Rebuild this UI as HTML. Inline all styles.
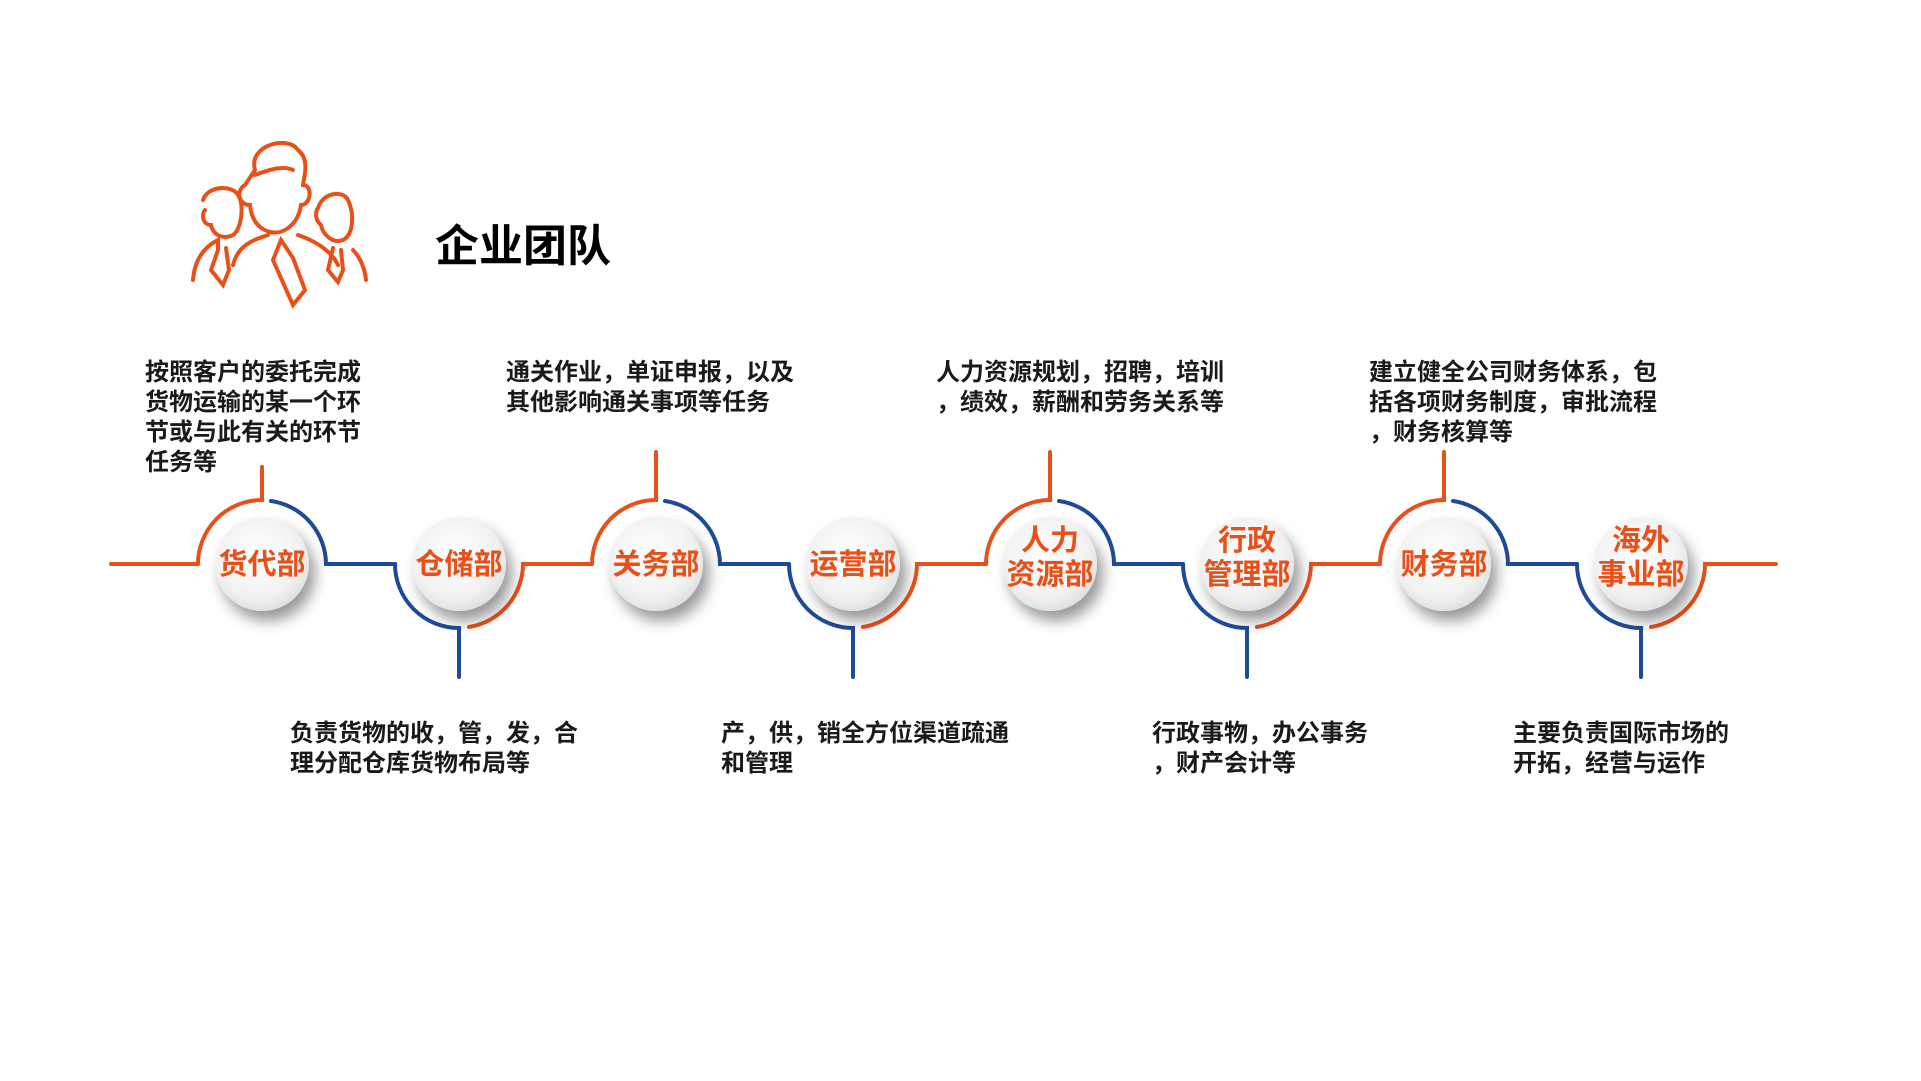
<!DOCTYPE html>
<html><head><meta charset="utf-8"><style>
html,body{margin:0;padding:0;background:#fff;}
body{width:1921px;height:1081px;position:relative;overflow:hidden;font-family:"Liberation Sans","Noto Sans CJK SC",sans-serif;}
.t{position:absolute;font-size:24px;line-height:30px;color:#1a1a1a;font-weight:bold;white-space:nowrap;}
.title{position:absolute;left:435px;top:210px;font-size:44px;font-weight:bold;color:#000;}
</style></head><body>
<svg width="1921" height="1081" style="position:absolute;left:0;top:0">
<defs>
<radialGradient id="g" cx="0.45" cy="0.4" r="0.65">
<stop offset="0" stop-color="#ffffff"/><stop offset="0.7" stop-color="#f1f1f1"/><stop offset="1" stop-color="#dcdcdc"/>
</radialGradient>
<filter id="sh" x="-50%" y="-50%" width="200%" height="200%"><feDropShadow dx="6" dy="10" stdDeviation="7" flood-color="#000" flood-opacity="0.4"/></filter>
</defs>
<g fill="none" stroke-width="4" stroke-linecap="round">
<g stroke="#e8501a" stroke-width="4" transform="translate(193,140)">
<path d="M62 30 C55 5 95 -5 105 10 C118 20 110 40 110 45 C120 45 118 65 108 65 C105 85 90 95 77 92 C62 88 58 75 57 65 C45 65 43 50 52 45 Z"/>
<path d="M62 35 C75 30 90 25 100 30"/>
<path d="M40 125 C45 105 60 100 75 95 M105 95 C120 100 138 110 145 125"/>
<path d="M88 100 L80 120 L100 165 L112 150 L100 118 Z"/>
<path d="M10 60 C15 45 40 45 45 55 C52 65 48 90 40 95 C30 100 20 95 18 85 C10 85 8 75 12 70"/>
<path d="M0 140 C2 115 15 105 25 100 L25 110 L18 130 L30 145 L36 130 L33 108"/>
<path d="M125 68 C130 52 150 50 155 60 C162 75 160 95 150 100 C140 104 130 95 128 85 C122 80 122 72 125 68"/>
<path d="M140 108 L135 130 L145 142 L150 130 L148 110 M160 110 C168 118 172 130 173 140"/>
</g>
<path d="M111 564 H198" stroke="#e8501a"/>
</g>
<g id="nodes" fill="none" stroke-width="4" stroke-linecap="round"></g>
</svg>
<div class="title">企业团队</div>
<div class="t" style="left:145px;top:358px">按照客户的委托完成<br>货物运输的某一个环<br>节或与此有关的环节<br>任务等</div>
<div class="t" style="left:506px;top:358px">通关作业，单证申报，以及<br>其他影响通关事项等任务</div>
<div class="t" style="left:936px;top:358px">人力资源规划，招聘，培训<br>，绩效，薪酬和劳务关系等</div>
<div class="t" style="left:1369px;top:358px">建立健全公司财务体系，包<br>括各项财务制度，审批流程<br>，财务核算等</div>
<div class="t" style="left:290px;top:719px">负责货物的收，管，发，合<br>理分配仓库货物布局等</div>
<div class="t" style="left:721px;top:719px">产，供，销全方位渠道疏通<br>和管理</div>
<div class="t" style="left:1152px;top:719px">行政事物，办公事务<br>，财产会计等</div>
<div class="t" style="left:1513px;top:719px">主要负责国际市场的<br>开拓，经营与运作</div>
<script>
var O="#e8501a",B="#1e4a9a",D=197;
var labels=[["货代部"],["仓储部"],["关务部"],["运营部"],["人力","资源部"],["行政","管理部"],["财务部"],["海外","事业部"]];
var g=document.getElementById("nodes"),s="";
var F=' font-size="29" font-weight="bold" fill="'+O+'" stroke="none" font-family="Liberation Sans,Noto Sans CJK SC,sans-serif" text-anchor="middle"';
for(var i=0;i<8;i++){
 var cx=262+D*i,cy=564,r=64;
 if(i%2==0){
  var st=(i==0)?467:452;
  s+='<path d="M'+(cx-r)+' '+cy+' A'+r+' '+r+' 0 0 1 '+cx+' '+(cy-r)+' V'+st+'" stroke="'+O+'"/>';
  s+='<path d="M'+(cx+9)+' '+(cy-r+1)+' A'+r+' '+r+' 0 0 1 '+(cx+r)+' '+cy+' H'+(cx+D-r)+'" stroke="'+B+'"/>';
 } else {
  s+='<path d="M'+(cx-r)+' '+cy+' A'+r+' '+r+' 0 0 0 '+cx+' '+(cy+r)+' V677" stroke="'+B+'"/>';
  s+='<path d="M'+(cx+10)+' '+(cy+r-1)+' A'+r+' '+r+' 0 0 0 '+(cx+r)+' '+cy+(i<7?' H'+(cx+D-r):' H1776')+'" stroke="'+O+'"/>';
 }
 s+='<circle cx="'+cx+'" cy="'+cy+'" r="47" fill="url(#g)" stroke="none" filter="url(#sh)"/>';
 var L=labels[i];
 if(L.length==1){
  s+='<text x="'+cx+'" y="'+(cy+10)+'"'+F+'>'+L[0]+'</text>';
 } else {
  s+='<text x="'+cx+'" y="'+(cy-14)+'"'+F+'>'+L[0]+'</text>';
  s+='<text x="'+cx+'" y="'+(cy+20)+'"'+F+'>'+L[1]+'</text>';
 }
}
g.innerHTML=s;
</script>
</body></html>
